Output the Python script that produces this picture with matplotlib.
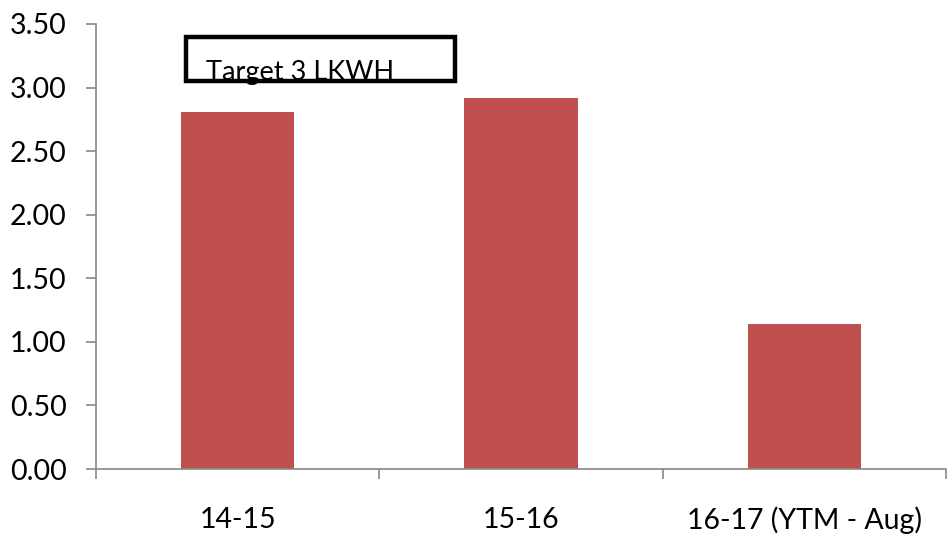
import matplotlib.pyplot as plt
from matplotlib.patches import Rectangle

# values per financial year
years = ['14-15', '15-16', '16-17 (YTM - Aug)']
values = [2.81, 2.92, 1.14]
yticks = [0.0, 0.5, 1.0, 1.5, 2.0, 2.5, 3.0, 3.5]
target_label = 'Target 3 LKWH'

plt.rcParams['font.family'] = ['Lato', 'DejaVu Sans']

W, H = 951, 541
fig = plt.figure(figsize=(W / 100, H / 100), dpi=100)
ax = fig.add_axes([96 / W, 1 - 469 / H, 850 / W, 445 / H])

x = range(len(years))
ax.bar(x, values, width=0.4, color='#C0504D', zorder=2)

ax.set_xlim(-0.5, len(years) - 0.5)
ax.set_ylim(0, 3.5)
ax.set_yticks(yticks)
ax.set_yticklabels(['%.2f' % v for v in yticks])
ax.set_xticks(list(x))
ax.set_xticklabels(years)
ax.set_xticks([i - 0.5 for i in range(len(years) + 1)], minor=True)

grey = '#888888'
for s in ['top', 'right']:
    ax.spines[s].set_visible(False)
for s in ['left', 'bottom']:
    ax.spines[s].set_color(grey)
    ax.spines[s].set_linewidth(1.2)

ax.tick_params(axis='y', length=7, width=1.2, color=grey, pad=14, labelsize=20.5)
ax.tick_params(axis='x', which='major', length=0, pad=27, labelsize=20.5)
ax.tick_params(axis='x', which='minor', length=7, width=1.2, color=grey)

# target box
box = Rectangle((186 / W, 1 - 81 / H), (455 - 186) / W, (81 - 37) / H,
                transform=fig.transFigure, fill=False, edgecolor='black',
                linewidth=3.2, zorder=5)
fig.patches.append(box)
txt = fig.text(206 / W, 1 - 80 / H, target_label, fontsize=19.5, va='baseline',
               ha='left', zorder=4)

fig.savefig('out.png', dpi=100)
